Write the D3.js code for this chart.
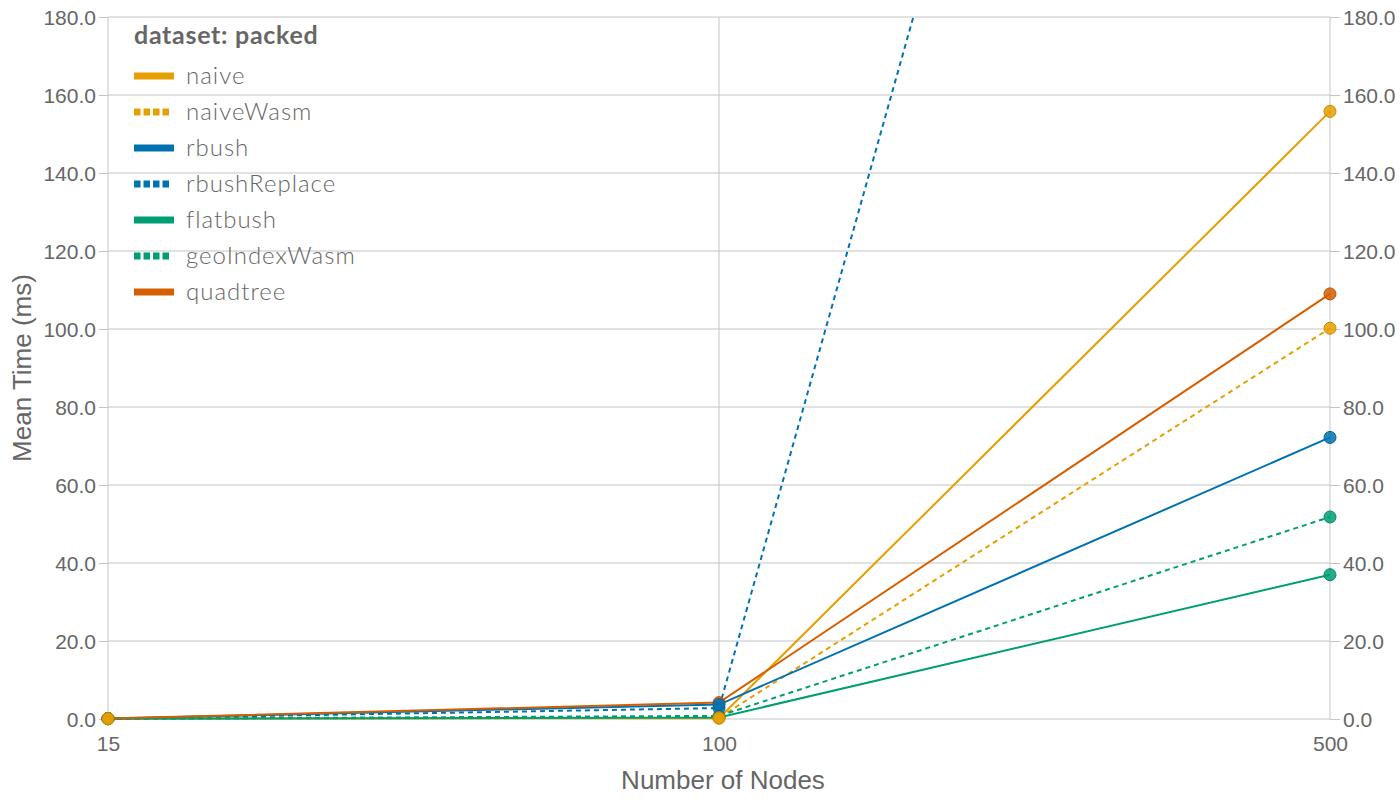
<!DOCTYPE html>
<html>
<head>
<meta charset="utf-8">
<script src="https://cdn.jsdelivr.net/npm/d3@7"></script>
<style>
  body { margin: 0; background: #fff; }
  .tick text { font-family: "Liberation Sans", Helvetica, Arial, sans-serif; font-size: 21px; fill: #666; }
  .axis-title { font-family: "Liberation Sans", Helvetica, Arial, sans-serif; font-size: 26px; fill: #666; }
  .legend text { font-family: Lato, "Open Sans", sans-serif; fill: #666; }
</style>
</head>
<body>
<svg id="chart" width="1400" height="800"></svg>
<script>
// data
var nodeCounts = ["15", "100", "500"];
var seriesNames = ["naive", "naiveWasm", "rbush", "rbushReplace", "flatbush", "geoIndexWasm", "quadtree"];
var seriesColors = ["#E69F00", "#E69F00", "#0072B2", "#0072B2", "#009E73", "#009E73", "#D55E00"];
var seriesDashed = [false, true, false, true, false, true, false];
var naive = [0.1, 0.2, 155.8];
var naiveWasm = [0.05, 0.3, 100.2];
var rbush = [0.1, 3.7, 72.2];
var rbushReplace = [0.1, 2.8, 560];
var flatbush = [0.05, 0.4, 37.0];
var geoIndexWasm = [0.05, 0.8, 51.8];
var quadtree = [0.1, 4.2, 109.0];
var yTicks = [0, 20, 40, 60, 80, 100, 120, 140, 160, 180];

var allValues = [naive, naiveWasm, rbush, rbushReplace, flatbush, geoIndexWasm, quadtree];

var margin = {top: 17, right: 70, bottom: 81, left: 108};
var width = 1400 - margin.left - margin.right;
var height = 800 - margin.top - margin.bottom;

var svg = d3.select("#chart");
var g = svg.append("g")
    .attr("transform", "translate(" + margin.left + "," + margin.top + ")");

var x = d3.scalePoint().domain(nodeCounts).range([0, width]);
var y = d3.scaleLinear().domain([0, 180]).range([height, 0]);

// clip so off-chart values get cut at the top
g.append("defs").append("clipPath").attr("id", "plotclip")
  .append("rect").attr("x", -10).attr("y", 0).attr("width", width + 20).attr("height", height + 10);

// grid
g.append("g").selectAll("line.hgrid").data(yTicks).enter().append("line")
    .attr("x1", 0).attr("x2", width)
    .attr("y1", function(d){ return y(d); }).attr("y2", function(d){ return y(d); })
    .attr("stroke", "#c4c4c4").attr("stroke-width", 1);
g.append("g").selectAll("line.vgrid").data(nodeCounts).enter().append("line")
    .attr("x1", function(d){ return x(d); }).attr("x2", function(d){ return x(d); })
    .attr("y1", 0).attr("y2", height)
    .attr("stroke", "#c4c4c4").attr("stroke-width", 1);

// axes
var yLeft = g.append("g")
    .call(d3.axisLeft(y).tickValues(yTicks).tickFormat(d3.format(".1f")).tickSize(9).tickPadding(3));
var yRight = g.append("g").attr("transform", "translate(" + width + ",0)")
    .call(d3.axisRight(y).tickValues(yTicks).tickFormat(d3.format(".1f")).tickSize(10).tickPadding(3));
var xAxis = g.append("g").attr("transform", "translate(0," + height + ")")
    .call(d3.axisBottom(x).tickSize(0).tickPadding(17));
[yLeft, yRight, xAxis].forEach(function(a){
    a.select(".domain").remove();
    a.selectAll(".tick line").attr("stroke", "#c4c4c4");
});
yLeft.selectAll(".tick text").attr("dy", "0.36em");
yRight.selectAll(".tick text").attr("dy", "0.36em");

// axis titles
svg.append("text").attr("class", "axis-title")
    .attr("text-anchor", "middle")
    .attr("transform", "translate(31," + (margin.top + height / 2) + ") rotate(-90)")
    .text("Mean Time (ms)");
svg.append("text").attr("class", "axis-title")
    .attr("text-anchor", "middle")
    .attr("x", margin.left + width / 2 + 4).attr("y", 789)
    .text("Number of Nodes");

// lines
var line = d3.line()
    .x(function(d, i){ return x(nodeCounts[i]); })
    .y(function(d){ return y(d); });

var plot = g.append("g").attr("clip-path", "url(#plotclip)");
seriesNames.forEach(function(name, s){
    plot.append("path")
        .datum(allValues[s])
        .attr("d", line)
        .attr("fill", "none")
        .attr("stroke", seriesColors[s])
        .attr("stroke-width", 2)
        .attr("stroke-dasharray", seriesDashed[s] ? "5,4" : null);
});

// dots, drawn last series first
for (var s = seriesNames.length - 1; s >= 0; s--) {
    plot.append("g").selectAll("circle")
        .data(allValues[s])
        .enter().append("circle")
        .attr("cx", function(d, i){ return x(nodeCounts[i]); })
        .attr("cy", function(d){ return y(d); })
        .attr("r", 6)
        .attr("fill", seriesColors[s])
        .attr("fill-opacity", 0.85)
        .attr("stroke", d3.color(seriesColors[s]).darker(0.4))
        .attr("stroke-width", 1);
}

// legend
var legend = svg.append("g").attr("class", "legend").attr("transform", "translate(134,0)");
legend.append("text")
    .attr("x", 0).attr("y", 44)
    .style("font-size", "25px").style("font-weight", "bold")
    .style("letter-spacing", "0.7px")
    .text("dataset: packed");
var rows = legend.selectAll("g.row").data(seriesNames).enter().append("g")
    .attr("class", "row")
    .attr("transform", function(d, i){ return "translate(0," + (76 + i * 36) + ")"; });
rows.append("line")
    .attr("x1", 0).attr("x2", function(d, i){ return seriesDashed[i] ? 35 : 40; })
    .attr("y1", 0).attr("y2", 0)
    .attr("stroke", function(d, i){ return seriesColors[i]; })
    .attr("stroke-width", 7)
    .attr("stroke-dasharray", function(d, i){ return seriesDashed[i] ? "6.5,3" : null; });
rows.append("text")
    .attr("x", 52).attr("y", 0).attr("dy", "0.35em")
    .style("font-size", "24px").style("font-weight", "300")
    .style("letter-spacing", "1px")
    .text(function(d){ return d; });
</script>
</body>
</html>
